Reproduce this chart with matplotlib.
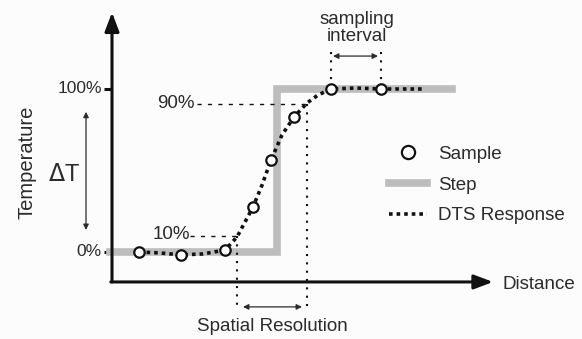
import matplotlib
matplotlib.use('Agg')
import matplotlib.pyplot as plt
from matplotlib.lines import Line2D

plt.rcParams['font.family'] = ['Liberation Sans', 'DejaVu Sans']

# sample points (distance, temperature %)
sample_x = [27, 69, 113, 141, 159, 182, 219, 269]
sample_y = [0, -1.8, 1.2, 27.6, 56.4, 82.8, 100, 100]

# ideal step
step_x = [-2, 165, 165, 340]
step_y = [0, 0, 100, 100]

# DTS response curve
dts_x = [27, 48, 69, 91, 113, 125, 133, 141, 150, 159, 170, 182, 195, 206, 219, 244, 269, 311]
dts_y = [0, -0.6, -1.8, -1.2, 1.2, 9.2, 18.4, 27.6, 41, 56.4, 71.8, 82.8, 91.4, 96.3, 100, 100.6, 100, 100]

# 10% / 90% levels and the crossing distances
level_lo, level_hi = 9.5, 91
x_lo, x_hi = 125, 195

tick_vals = [0, 100]
tick_labels = ['0%', '100%']

ink = '#111111'
txt = '#2b2b2b'
grey = '#bdbdbd'

fig = plt.figure(figsize=(5.82, 3.39), dpi=100)
fig.patch.set_facecolor('#fcfcfc')
ax = fig.add_axes([0, 0, 1, 1])
ax.set_xlim(-112, 470)
ax.set_ylim(-53.4, 154.6)
ax.axis('off')

# axes with arrow heads
ax.annotate('', xy=(0, 147), xytext=(0, -18.4),
            arrowprops=dict(arrowstyle='-|>,head_length=0.95,head_width=0.36',
                            mutation_scale=12, lw=2.2, color=ink, shrinkA=0, shrinkB=0))
ax.annotate('', xy=(381, -18.4), xytext=(-1.2, -18.4),
            arrowprops=dict(arrowstyle='-|>,head_length=0.95,head_width=0.36',
                            mutation_scale=12, lw=2.2, color=ink, shrinkA=0, shrinkB=0))
for v, lab in zip(tick_vals, tick_labels):
    ax.plot([-8, 0], [v, v], color=ink, lw=2.2, solid_capstyle='butt')
    ax.text(-10, v, lab, ha='right', va='center', fontsize=12.5, color=txt)

ax.text(390, -20.2, 'Distance', ha='left', va='center', fontsize=13.5, color=txt)
ax.text(-85, 55.2, 'Temperature', ha='center', va='center', rotation=90, fontsize=14.5, color=txt)

# delta T
ax.annotate('', xy=(-26, 86), xytext=(-26, 13.5),
            arrowprops=dict(arrowstyle='<|-|>', mutation_scale=8, lw=0.9, color=txt,
                            shrinkA=0, shrinkB=0))
ax.text(-48, 47.2, r'$\Delta$T', ha='center', va='center', fontsize=17, color=txt,
        math_fontfamily='dejavusans')

# step
ax.plot(step_x, step_y, color=grey, lw=5.5, solid_joinstyle='miter', zorder=2)

# 10% / 90% guides
ax.plot([78, x_lo], [level_lo, level_lo], color=ink, lw=1, ls=(0, (3, 4.5)), zorder=3)
ax.plot([85, x_hi], [level_hi, level_hi], color=ink, lw=1, ls=(0, (3, 4.5)), zorder=3)
ax.text(41, level_lo + 1, '10%', ha='left', va='center', fontsize=13.5, color=txt)
ax.text(45, level_hi, '90%', ha='left', va='center', fontsize=13.5, color=txt)
ax.plot([x_lo, x_lo], [level_lo, -35.6], color=ink, lw=1.5, ls=(0, (1, 3)), zorder=3)
ax.plot([x_hi, x_hi], [level_hi, -35.6], color=ink, lw=1.5, ls=(0, (1, 3)), zorder=3)
ax.annotate('', xy=(x_hi - 5, -33.7), xytext=(x_lo + 6, -33.7),
            arrowprops=dict(arrowstyle='<|-|>', mutation_scale=8, lw=0.9, color=txt,
                            shrinkA=0, shrinkB=0))
ax.text(160, -46, 'Spatial Resolution', ha='center', va='center', fontsize=13.5, color=txt)

# sampling interval
for sx in sample_x[-2:]:
    ax.plot([sx, sx], [122.7, 100], color=ink, lw=1.5, ls=(0, (1, 3)), zorder=3)
ax.annotate('', xy=(sample_x[-1] - 3, 120.2), xytext=(sample_x[-2] + 2, 120.2),
            arrowprops=dict(arrowstyle='<|-|>', mutation_scale=8, lw=0.9, color=txt,
                            shrinkA=0, shrinkB=0))
ax.text(245, 137.7, 'sampling\ninterval', ha='center', va='center', fontsize=13.5,
        color=txt, linespacing=1.0)

# DTS response + samples
ax.plot(dts_x, dts_y, color=ink, lw=2.6, ls=(0, (1, 1.1)), zorder=4)
ax.plot(sample_x, sample_y, 'o', ms=7.5, mfc='white', mec=ink, mew=1.6, zorder=5)

handles = [Line2D([], [], marker='o', ls='', ms=9.5, mfc='white', mec=ink, mew=1.6),
           Line2D([], [], color=grey, lw=5.5),
           Line2D([], [], color=ink, lw=2.6, ls=(0, (1, 1.1)))]
labels = ['Sample', 'Step', 'DTS Response']
leg = ax.legend(handles, labels, loc='center left', bbox_to_anchor=(268, 41.1),
                bbox_transform=ax.transData, frameon=False, borderpad=0,
                handlelength=2.0, handletextpad=0.6, labelspacing=0.72, fontsize=13.5)
for t in leg.get_texts():
    t.set_color(txt)

fig.savefig('out.png', dpi=100, facecolor=fig.get_facecolor())
